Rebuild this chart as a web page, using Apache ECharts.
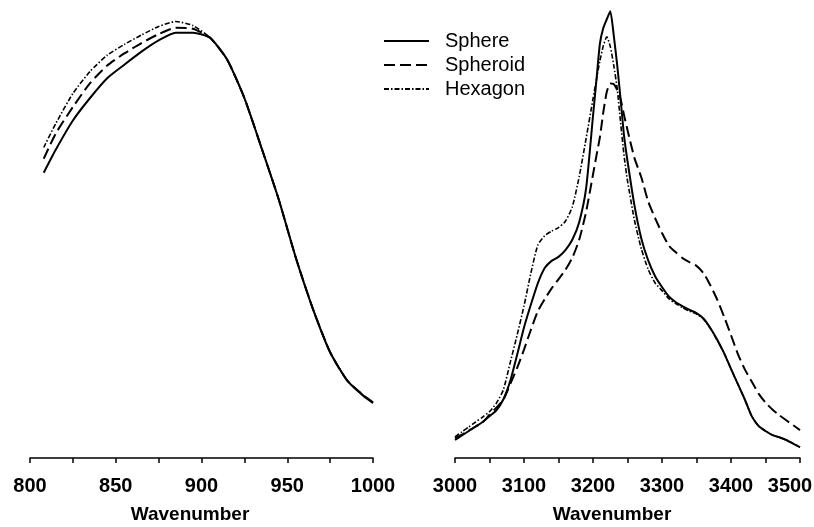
<!DOCTYPE html>
<html>
<head>
<meta charset="utf-8">
<script src="https://cdn.jsdelivr.net/npm/echarts@6/dist/echarts.min.js"></script>
<style>
html,body{margin:0;padding:0;background:#fff;}
#chart{width:814px;height:527px;}
</style>
</head>
<body>
<div id="chart"></div>
<script>
// ---- Data (arbitrary intensity units) ----
var seriesNames = ['Sphere', 'Spheroid', 'Hexagon'];
var xTitle = 'Wavenumber';

// Low-wavenumber panel (800-1000)
var leftWn       = [808, 815, 825, 835, 845, 855, 865, 875, 885, 895, 905, 915, 925, 935, 945, 955, 965, 975, 985, 995, 1000];
var leftSphere   = [63.4, 68.5, 75.0, 80.0, 84.4, 87.4, 90.3, 92.8, 94.5, 94.5, 93.4, 88.5, 80.0, 68.9, 57.5, 44.5, 33.1, 23.5, 17.2, 13.6, 12.2];
var leftSpheroid = [66.5, 72.1, 78.0, 83.3, 87.2, 89.9, 92.2, 94.2, 95.6, 95.4, 93.4, 88.5, 80.0, 68.9, 57.5, 44.5, 33.1, 23.5, 17.2, 13.8, 12.4];
var leftHexagon  = [69.0, 74.3, 81.0, 85.9, 89.5, 91.9, 94.0, 95.9, 97.0, 96.1, 93.4, 88.5, 80.0, 68.9, 57.5, 44.5, 33.1, 23.5, 17.2, 13.7, 12.3];

// High-wavenumber panel (3000-3500)
var rightWn = [3000, 3010, 3020, 3030, 3040, 3050, 3060, 3070, 3080, 3090,
               3100, 3110, 3120, 3130, 3140, 3150, 3160, 3170, 3180, 3190,
               3200, 3205, 3210, 3215, 3220, 3225, 3230, 3235, 3240, 3245,
               3250, 3260, 3270, 3280, 3290, 3300, 3310, 3320, 3330, 3340,
               3350, 3360, 3370, 3380, 3390, 3400, 3410, 3420, 3430, 3440,
               3450, 3460, 3470, 3480, 3490, 3500];
var rightSphere = [4.0, 5.0, 6.0, 7.0, 8.0, 9.3, 10.6, 13.0, 17.1, 22.9,
                   29.0, 34.1, 38.8, 42.2, 43.8, 44.7, 46.2, 48.5, 52.4, 59.9,
                   76.0, 84.0, 92.1, 95.6, 97.5, 99.3, 94.0, 87.4, 79.7, 71.6,
                   66.0, 56.2, 48.8, 43.9, 40.4, 38.0, 35.9, 34.6, 33.7, 32.9,
                   32.2, 31.0, 28.9, 26.3, 23.3, 19.8, 16.4, 13.0, 9.3, 7.1,
                   6.0, 5.1, 4.6, 4.0, 3.2, 2.4];
var rightSpheroid = [4.4, 5.2, 6.1, 7.0, 7.9, 9.6, 11.2, 12.9, 16.4, 20.0,
                     24.1, 28.5, 32.6, 35.3, 37.7, 39.7, 41.8, 44.5, 48.5, 54.7,
                     63.0, 67.2, 71.3, 76.9, 81.4, 83.2, 83.1, 81.8, 79.7, 76.2,
                     72.9, 66.7, 62.4, 57.0, 53.3, 50.0, 47.2, 45.7, 44.4, 43.5,
                     42.7, 41.1, 38.4, 35.2, 31.4, 27.3, 23.1, 19.7, 17.0, 14.3,
                     12.3, 10.8, 9.5, 8.4, 7.3, 6.2];
var rightHexagon = [4.7, 5.8, 6.9, 8.0, 9.1, 10.3, 12.2, 15.1, 21.2, 27.3,
                    33.8, 41.1, 47.3, 49.4, 50.4, 51.2, 52.6, 55.8, 62.5, 71.0,
                    79.8, 84.1, 88.3, 91.6, 93.6, 91.5, 87.3, 82.2, 74.5, 67.2,
                    61.6, 52.9, 46.5, 41.9, 38.9, 37.2, 35.4, 34.3, 33.4, 32.6,
                    32.0, 30.9, 28.8, 26.2, 23.3, 19.8, 16.4, 13.0, 9.3, 7.1,
                    6.0, 5.1, 4.6, 4.0, 3.2, 2.4];

function pairs(xs, ys) { return xs.map(function (x, i) { return [x, ys[i]]; }); }

var FONT = '"Liberation Sans", Arial, sans-serif';
var styles = {
  Sphere:   { type: 'solid', width: 2 },
  Spheroid: { type: [11, 5], width: 2 },
  Hexagon:  { type: [5, 2, 1.5, 2], width: 1.6 }
};

function mkAxis(gridIndex, min, max, interval) {
  var lblStyle = { color: '#000', fontWeight: 'bold', fontSize: 20, fontFamily: FONT };
  return {
    type: 'value', gridIndex: gridIndex, min: min, max: max, interval: interval,
    axisLine: { show: true, onZero: false, lineStyle: { color: '#000', width: 1.5 } },
    axisTick: { show: true, inside: false, length: 5, lineStyle: { color: '#000', width: 1.5 } },
    minorTick: { show: true, splitNumber: 2, length: 5, lineStyle: { color: '#000', width: 1.5 } },
    splitLine: { show: false }, minorSplitLine: { show: false },
    axisLabel: {
      color: '#000', fontWeight: 'bold', fontSize: 20, fontFamily: FONT, margin: 18,
      formatter: function (v) {
        // keep the last label of the right panel inside the page
        if (gridIndex === 1 && v === max) return '{edge|' + v + '}';
        return String(v);
      },
      rich: {
        edge: Object.assign({ padding: [0, 20, 0, 0] }, lblStyle)
      }
    }
  };
}
function mkY(gridIndex) {
  return { type: 'value', gridIndex: gridIndex, min: 0, max: 100, show: false,
           splitLine: { show: false } };
}

var dataSets = [
  [leftSphere, rightSphere],
  [leftSpheroid, rightSpheroid],
  [leftHexagon, rightHexagon]
];
var series = [];
// draw order: Hexagon, Spheroid, Sphere (sphere on top)
[2, 1, 0].forEach(function (k) {
  var name = seriesNames[k];
  [0, 1].forEach(function (g) {
    series.push({
      name: name, type: 'line', xAxisIndex: g, yAxisIndex: g,
      data: pairs(g === 0 ? leftWn : rightWn, dataSets[k][g]),
      showSymbol: false, symbol: 'none', smooth: 0.2,
      lineStyle: { color: '#000', type: styles[name].type, width: styles[name].width },
      itemStyle: { color: '#000' },
      z: 3 - k, animation: false
    });
  });
});

var chart = echarts.init(document.getElementById('chart'), null, { renderer: 'canvas' });
chart.setOption({
  backgroundColor: '#fff',
  animation: false,
  grid: [
    { left: 30, width: 343, top: 8, bottom: 69, containLabel: false, outerBoundsMode: 'none' },
    { left: 455, width: 345, top: 8, bottom: 69, containLabel: false, outerBoundsMode: 'none' }
  ],
  xAxis: [mkAxis(0, 800, 1000, 50), mkAxis(1, 3000, 3500, 100)],
  yAxis: [mkY(0), mkY(1)],
  legend: {
    data: seriesNames, orient: 'vertical', left: 378, top: 26, padding: 5,
    itemWidth: 45, itemHeight: 14, itemGap: 4,
    itemStyle: { opacity: 0 },
    textStyle: { color: '#000', fontSize: 20, lineHeight: 20, fontFamily: FONT, padding: [0, 0, 0, 11] }
  },
  graphic: [
    { type: 'text', x: 190, y: 515, style: { text: xTitle, textAlign: 'center', textVerticalAlign: 'middle', font: 'bold 19px ' + FONT, fill: '#000' } },
    { type: 'text', x: 612, y: 515, style: { text: xTitle, textAlign: 'center', textVerticalAlign: 'middle', font: 'bold 19px ' + FONT, fill: '#000' } }
  ],
  series: series
});
</script>
</body>
</html>
